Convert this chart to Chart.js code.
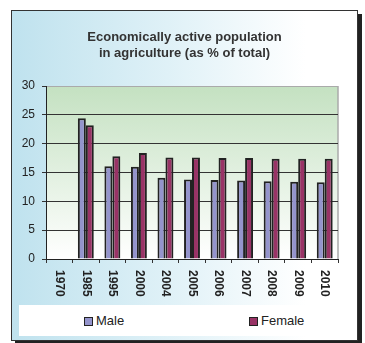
<!DOCTYPE html>
<html>
<head>
<meta charset="utf-8">
<script src="https://cdn.jsdelivr.net/npm/chart.js@4"></script>
<style>
  body { margin: 0; background: #fff; font-family: "Liberation Sans", Arial, sans-serif; }
  #frame {
    position: absolute; left: 11px; top: 10px; width: 345px; height: 329px;
    border: 1px solid #333;
    background: linear-gradient(to right, #bfe2ee 0%, #dff1f7 45%, #ffffff 85%);
    box-shadow: 4px 4px 0 #222;
  }
  #chartBox { position: absolute; left: 0; top: 0; width: 345px; height: 329px; }
  #legend {
    position: absolute; left: 7px; top: 294px; width: 337px; height: 31px; background: #fff;
    font-size: 13px; color: #222;
  }
  .item { position: absolute; top: 8px; line-height: 15px; }
  .sw { display: inline-block; width: 7px; height: 7px; border: 1px solid #222; margin-right: 3px; vertical-align: -1px; }
</style>
</head>
<body>
<div id="frame">
  <div id="chartBox"><canvas id="agriChart"></canvas></div>
  <div id="legend">
    <span class="item" style="left:65px"><span class="sw" style="background:#9494cc"></span>Male</span>
    <span class="item" style="left:230px"><span class="sw" style="background:#993366"></span>Female</span>
  </div>
</div>
<script>
// data
const years = ['1970', '1985', '1995', '2000', '2004', '2005', '2006', '2007', '2008', '2009', '2010'];
const male = [null, 24.4, 16.1, 16.0, 14.1, 13.8, 13.7, 13.6, 13.5, 13.4, 13.3];
const female = [null, 23.2, 17.8, 18.4, 17.6, 17.6, 17.5, 17.5, 17.4, 17.4, 17.4];
const titleLines = ['Economically active population', 'in agriculture (as % of total)'];

Chart.defaults.font.family = '"Liberation Sans", Arial, sans-serif';
Chart.defaults.color = '#222';

// green plot background + grey right edge
const plotBg = {
  id: 'plotBg',
  beforeDraw(chart) {
    const a = chart.chartArea, c = chart.ctx;
    const g = c.createLinearGradient(0, a.top, 0, a.bottom);
    g.addColorStop(0, '#c4e1c1');
    g.addColorStop(1, '#ffffff');
    c.save();
    c.fillStyle = g;
    c.fillRect(a.left, a.top, a.right - a.left, a.bottom - a.top);
    c.strokeStyle = '#aaa';
    c.lineWidth = 1.5;
    c.beginPath();
    c.moveTo(a.right, a.top);
    c.lineTo(a.right, a.bottom);
    c.stroke();
    c.restore();
  }
};

// year labels, turned to read top to bottom
const yearLabels = {
  id: 'yearLabels',
  afterDraw(chart) {
    const x = chart.scales.x, c = chart.ctx;
    c.save();
    c.font = 'bold 12px "Liberation Sans", Arial, sans-serif';
    c.fillStyle = '#222';
    c.textAlign = 'left';
    c.textBaseline = 'middle';
    years.forEach(function (y, i) {
      c.save();
      c.translate(x.getPixelForValue(i), x.top + 11);
      c.rotate(Math.PI / 2);
      c.fillText(y, 0, 0);
      c.restore();
    });
    c.restore();
  }
};

const ctx = document.getElementById('agriChart').getContext('2d');
new Chart(ctx, {
  type: 'bar',
  data: {
    labels: years,
    datasets: [
      { label: 'Male', data: male, backgroundColor: '#9494cc', borderColor: '#222', borderWidth: 2 },
      { label: 'Female', data: female, backgroundColor: '#993366', borderColor: '#222', borderWidth: 2 }
    ]
  },
  options: {
    responsive: true,
    maintainAspectRatio: false,
    animation: false,
    layout: { padding: { left: 0, right: 0, top: 0, bottom: 31 } },
    datasets: { bar: { categoryPercentage: 0.6, barPercentage: 1.0 } },
    plugins: {
      legend: { display: false },
      tooltip: { enabled: false },
      title: {
        display: true,
        text: titleLines,
        color: '#333',
        font: { size: 13, weight: 'bold', lineHeight: '16px' },
        padding: { top: 18, bottom: 25 }
      }
    },
    scales: {
      y: {
        min: 0,
        max: 30,
        ticks: { stepSize: 5, padding: 7, font: { size: 12 }, color: '#222' },
        grid: {
          color: function (c) { return c.tick.value === 30 ? '#aaa' : '#333'; },
          tickColor: '#333',
          tickLength: 4
        },
        border: { color: '#222', width: 1 },
        afterFit: function (s) { s.width = 34; }
      },
      // empty right-hand strip so the title stays centred on the whole frame
      yRight: {
        position: 'right',
        ticks: { display: false },
        grid: { display: false },
        border: { display: false },
        afterFit: function (s) { s.width = 19; }
      },
      x: {
        ticks: { display: false },
        grid: { offset: true, drawOnChartArea: false, color: '#333', tickLength: 4 },
        border: { color: '#222', width: 1 },
        afterFit: function (s) { s.height = 50; }
      }
    }
  },
  plugins: [plotBg, yearLabels]
});
</script>
</body>
</html>
